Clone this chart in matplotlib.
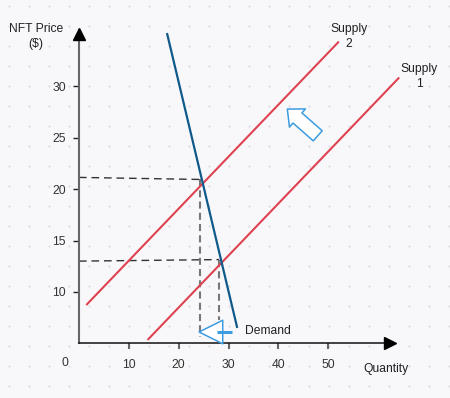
import numpy as np
import matplotlib.pyplot as plt
from matplotlib.patches import FancyArrowPatch

plt.rcParams['font.family'] = ['Liberation Sans', 'DejaVu Sans']

# quantity / price pairs (endpoints of each line)
demand_q = [17.7, 31.7]
demand_p = [35.1, 6.6]
supply2_q = [1.6, 52.0]
supply2_p = [8.8, 34.3]
supply1_q = [13.9, 64.1]
supply1_p = [5.4, 30.8]

# equilibrium guides: (q, p) of the two crossings
eq2 = (24.3, 20.95)
eq1 = (28.1, 13.15)

price_ticks = [10, 15, 20, 25, 30]
qty_ticks = [10, 20, 30, 40, 50]

red = '#de4251'
navy = '#0f5a8a'
arrow_blue = '#3d9be0'
bg_col = '#f8f8fb'
fs = 8.7

fig = plt.figure(figsize=(4.5, 3.98), dpi=100)
fig.patch.set_facecolor(bg_col)

# dotted paper background (pixel space)
bg = fig.add_axes([0, 0, 1, 1])
bg.set_xlim(0, 450)
bg.set_ylim(398, 0)
bg.axis('off')
gx, gy = np.meshgrid(np.arange(9, 450, 20), np.arange(6, 398, 20))
bg.scatter(gx.ravel(), gy.ravel(), s=2.5, color='#dcdce2', linewidths=0)

# main axes, origin sits at (0, ~5)
ax = fig.add_axes([79 / 450, 55 / 398, 311 / 450, 313 / 398])
ax.patch.set_alpha(0)
ax.set_xlim(0, 62.4)
ax.set_ylim(5.03, 35.5)

for s in ['top', 'right']:
    ax.spines[s].set_visible(False)
ax.spines['left'].set_color('#666666')
ax.spines['left'].set_linewidth(1.5)
ax.spines['bottom'].set_color('#111111')
ax.spines['bottom'].set_linewidth(1.1)

# axis arrowheads
ax.plot([0], [35.15], marker='^', markersize=9, color='black', clip_on=False, zorder=5)
ax.plot([62.4], [5.03], marker='>', markersize=9, color='black', clip_on=False, zorder=5)

ax.set_yticks(price_ticks)
ax.set_yticklabels([str(v) for v in price_ticks])
ax.set_xticks(qty_ticks)
ax.set_xticklabels([str(v) for v in qty_ticks])
ax.tick_params(axis='y', direction='out', length=4.3, width=1, color='#222222',
               pad=5, labelsize=fs, labelcolor='#333333')
ax.tick_params(axis='x', direction='out', length=4.3, width=1.5, color='#666666',
               pad=7, labelsize=fs, labelcolor='#333333')

# supply and demand
ax.plot(supply2_q, supply2_p, color=red, lw=1.5, clip_on=False, zorder=3)
ax.plot(supply1_q, supply1_p, color=red, lw=1.5, clip_on=False, zorder=3)
ax.plot(demand_q, demand_p, color=navy, lw=1.6, clip_on=False, zorder=3)

# dashed guides
ax.plot([0, eq2[0]], [21.15, eq2[1]], color='#333333', lw=1, ls=(0, (5.5, 3.5)), zorder=2)
ax.plot([eq2[0], eq2[0]], [eq2[1], 5.6], color='#777777', lw=1.5, ls=(0, (3.4, 2)), zorder=2)
ax.plot([0, eq1[0]], [13.0, eq1[1]], color='#333333', lw=1, ls=(0, (5.5, 3.5)), zorder=2)
ax.plot([eq1[0], eq1[0]], [eq1[1], 7.3], color='#777777', lw=1.5, ls=(0, (3.4, 2)), zorder=2)

# shift arrows (hollow)
up_arrow = FancyArrowPatch((47.9, 25.2), (41.8, 27.8),
                           arrowstyle='simple,head_length=9.7,head_width=17.4,tail_width=9.7',
                           mutation_scale=1, shrinkA=0, shrinkB=0,
                           facecolor='white', edgecolor=arrow_blue, lw=1.1, zorder=4)
ax.add_patch(up_arrow)
left_arrow = FancyArrowPatch((28.9, 6.1), (24.1, 6.1),
                             arrowstyle='simple,head_length=17,head_width=17,tail_width=0.5',
                             mutation_scale=1, shrinkA=0, shrinkB=0,
                             facecolor='white', edgecolor=arrow_blue, lw=1.1,
                             clip_on=False, zorder=4)
ax.add_patch(left_arrow)
ax.plot([27.7, 30.7], [6.1, 6.1], color=arrow_blue, lw=2.2, solid_capstyle='butt', zorder=5)

# labels
ax.text(-8.6, 34.9, 'NFT Price\n($)', ha='center', va='center', fontsize=fs,
        color='#222222', linespacing=1.3, clip_on=False)
ax.text(54.2, 34.9, 'Supply\n2', ha='center', va='center', fontsize=fs,
        color='#222222', linespacing=1.3, clip_on=False)
ax.text(68.3, 31.0, 'Supply\n1', ha='center', va='center', fontsize=fs,
        color='#222222', linespacing=1.3, clip_on=False)
ax.text(33.3, 6.2, 'Demand', ha='left', va='center', fontsize=fs, color='#222222', clip_on=False)
ax.text(61.6, 2.5, 'Quantity', ha='center', va='center', fontsize=fs, color='#222222', clip_on=False)
ax.text(-2.8, 3.1, '0', ha='center', va='center', fontsize=fs, color='#333333', clip_on=False)

fig.savefig('out.png', dpi=100, facecolor=bg_col)
